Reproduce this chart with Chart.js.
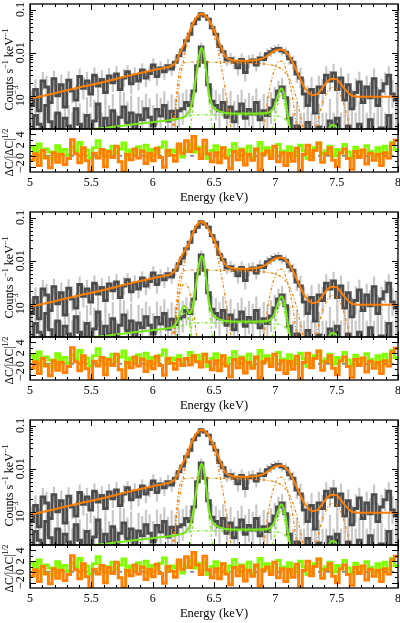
<!DOCTYPE html>
<html><head><meta charset="utf-8">
<script src="https://cdn.jsdelivr.net/npm/chart.js@4.4.1/dist/chart.umd.min.js"></script>
<style>
html,body{margin:0;padding:0;background:#fff;}
#wrap{position:relative;width:400px;height:623px;overflow:hidden;background:#fff;}
canvas{position:absolute;left:0;}
</style></head><body><div id="wrap"></div>
<script>
// ---------- DATA ----------
const energyBins = [5.00,5.03,5.06,5.09,5.12,5.15,5.18,5.21,5.24,5.27,
5.30,5.33,5.36,5.39,5.42,5.45,5.48,5.51,5.54,5.57,
5.60,5.63,5.66,5.69,5.72,5.75,5.78,5.81,5.84,5.87,
5.90,5.93,5.96,5.99,6.02,6.05,6.08,6.11,6.14,6.17,
6.20,6.23,6.26,6.29,6.32,6.35,6.38,6.41,6.44,6.47,
6.50,6.53,6.56,6.59,6.62,6.65,6.68,6.71,6.74,6.77,
6.80,6.83,6.86,6.89,6.92,6.95,6.98,7.01,7.04,7.07,
7.10,7.13,7.16,7.19,7.22,7.25,7.28,7.31,7.34,7.37,
7.40,7.43,7.46,7.49,7.52,7.55,7.58,7.61,7.64,7.67,
7.70,7.73,7.76,7.79,7.82,7.85,7.88,7.91,7.94,7.97];
const binEnd = 8.0;
const binWidth = 0.03;

const dataHigh = [6e-4,1.4e-3,4.5e-4,2.2e-3,1.6e-3,7e-4,2.5e-3,1.0e-3,1.8e-3,5.5e-4,
2.3e-3,1.3e-3,8e-4,2.8e-3,1.5e-3,2.2e-3,1.1e-3,3.0e-3,1.7e-3,2.4e-3,
1.2e-3,2.9e-3,2.0e-3,3.2e-3,1.4e-3,2.6e-3,3.6e-3,1.9e-3,3.0e-3,2.2e-3,
4.0e-3,2.6e-3,3.3e-3,5.2e-3,2.8e-3,4.4e-3,3.6e-3,5.0e-3,4.2e-3,6.0e-3,
8.5e-3,0.0115,0.019,0.027,0.047,0.060,0.080,0.071,0.060,0.038,
0.027,0.014,0.0105,0.0068,0.0072,0.0060,0.0045,0.0070,0.0035,0.0062,
0.0068,0.0052,0.0075,0.0070,0.0095,0.0105,0.0118,0.0125,0.0110,0.0102,
0.0072,0.0060,0.0032,0.0026,0.0011,0.0006,0.0014,0.0004,0.0016,0.0012,
0.0030,0.0022,0.0034,0.0014,0.0026,0.0008,0.0018,0.0005,0.0012,0.0021,
0.0007,0.0016,0.0009,0.0025,0.0006,0.0013,0.0019,0.0030,0.0011,0.0008];
const errHigh = [2.2,1.7,2.6,1.6,1.8,2.3,1.5,2.0,1.7,2.5,
1.6,1.9,2.2,1.5,1.8,1.6,2.0,1.5,1.7,1.6,
1.9,1.5,1.6,1.5,1.8,1.6,1.4,1.7,1.5,1.6,
1.4,1.6,1.5,1.4,1.6,1.4,1.5,1.4,1.4,1.35,
1.3,1.25,1.2,1.15,1.12,1.1,1.1,1.1,1.12,1.15,
1.2,1.25,1.3,1.35,1.35,1.4,1.5,1.35,1.6,1.4,
1.35,1.4,1.35,1.35,1.3,1.28,1.25,1.25,1.25,1.28,
1.35,1.4,1.6,1.7,2.2,2.8,1.9,3.0,1.8,2.0,
1.6,1.7,1.6,2.0,1.7,2.5,1.8,2.8,2.1,1.7,
2.5,1.8,2.3,1.7,2.6,1.9,1.8,1.6,2.1,2.4];
const dataLow = [1e-4,3.5e-4,2.2e-4,1e-4,6e-4,2.5e-4,1e-4,4e-4,1e-4,3e-4,
2e-4,1e-4,5e-4,2.2e-4,1e-4,3.5e-4,1e-4,2.6e-4,6.5e-4,1e-4,
3e-4,2e-4,4.5e-4,1e-4,3.2e-4,5.5e-4,2.4e-4,4e-4,1e-4,3.6e-4,
2.8e-4,5e-4,3.2e-4,2e-4,4.8e-4,3.4e-4,6e-4,2.6e-4,4.4e-4,3.3e-4,
4.5e-4,5e-4,7e-4,6e-4,1.3e-3,5e-3,0.0135,6e-3,1.8e-3,7.5e-4,
6e-4,4.5e-4,7e-4,3.2e-4,5.5e-4,2.5e-4,4.2e-4,6.5e-4,3e-4,4.8e-4,
3.8e-4,7e-4,2.8e-4,4.5e-4,3.5e-4,5.2e-4,8e-4,1.3e-3,1.6e-3,9e-4,
3e-4,1e-4,2e-4,1e-4,1e-4,2.4e-4,1e-4,1e-4,1.9e-4,1e-4,
1e-4,2.6e-4,1e-4,3e-4,1e-4,1e-4,2e-4,1e-4,1e-4,2.2e-4,
1e-4,1e-4,2.8e-4,1e-4,1e-4,1.8e-4,1e-4,3.5e-4,1e-4,1e-4];
const errLow = [4,2.5,3,4,2.2,3,4,2.5,4,2.8,
3,4,2.4,3,4,2.6,4,3,2.2,4,
2.8,3,2.4,4,2.7,2.2,3,2.5,4,2.6,
2.8,2.2,2.7,3,2.3,2.6,2.1,2.9,2.4,2.6,
2.4,2.3,2.0,1.8,1.5,1.3,1.25,1.35,1.6,2.0,
2.2,2.4,2.1,2.8,2.3,3,2.5,2.1,2.8,2.4,
2.6,2.1,2.9,2.4,2.7,2.3,2.0,1.7,1.6,1.9,
3,4,3.5,4,4,3.2,4,4,3.4,4,
4,3.2,4,3,4,4,3.5,4,4,3.3,
4,4,3,4,4,3.5,4,2.8,4,4];

const resGreen = [1.6,0.4,2.2,-0.3,1.3,0.7,-0.5,1.9,0.6,1.2,
0.1,1.7,0.9,2.5,0.3,1.1,-0.4,1.5,2.8,0.5,
1.0,-0.1,1.8,0.6,1.3,2.4,0.0,1.1,0.4,1.7,
0.8,2.0,-0.3,1.2,0.5,1.6,2.6,0.3,1.1,0.7,
1.5,-0.2,0.9,2.1,0.7,1.6,0.3,1.8,-0.5,1.0,
1.9,0.6,1.5,0.0,1.1,2.3,0.5,1.3,0.7,1.8,
-0.3,1.0,2.5,0.4,1.5,0.2,1.7,2.1,0.6,0.9,
1.7,-0.2,0.7,2.0,1.0,-0.5,0.6,1.5,2.4,0.4,
0.9,1.8,0.0,1.2,0.5,2.1,0.7,-0.3,1.6,1.0,
0.4,1.9,0.8,-0.1,1.5,0.6,1.8,0.5,2.5,1.2];
const resOrange = [-0.8,0.4,-1.8,1.0,-0.4,-2.2,0.6,-1.2,0.3,-1.6,
-0.5,3.0,0.4,-1.3,1.5,-0.9,-2.8,0.5,-0.4,1.2,
-2.0,0.8,-0.3,1.8,-1.1,-2.9,0.3,-0.7,1.3,-0.4,
0.9,-1.4,0.5,-0.9,1.4,-0.3,-2.1,1.0,0.1,-1.0,
2.2,0.5,2.8,0.8,3.6,1.3,-0.5,2.9,0.4,-1.1,
0.6,-1.3,1.5,-0.4,-2.4,0.8,-0.7,1.1,-1.7,0.3,
-0.8,1.3,-2.6,0.4,0.9,-0.5,1.8,-1.1,0.6,-1.8,
0.5,-1.0,1.4,-2.9,0.3,2.0,-0.7,1.0,2.4,-1.2,
0.4,1.5,-0.8,-2.0,0.6,1.3,-0.5,-2.5,0.8,-0.3,
1.1,-1.5,0.5,-0.8,0.3,-1.8,0.6,-0.4,2.2,2.9];
const resOrangeP2 = [-0.8,0.4,-1.8,1.0,-0.4,-2.2,0.6,-1.2,0.3,-1.6,
-0.5,3.0,0.4,-1.3,1.5,-0.9,-2.8,0.5,-0.4,1.2,
-2.0,0.8,-0.3,1.8,-1.1,-2.9,0.3,-0.7,1.3,-0.4,
0.9,-1.4,0.5,-0.9,1.4,-0.3,-2.1,1.0,0.1,-1.0,
0.8,-0.3,1.0,-0.2,1.5,0.4,-0.6,1.8,0.4,-1.1,
0.6,-1.3,1.5,-0.4,-2.4,0.8,-0.7,1.1,-1.7,0.3,
-0.8,1.3,-2.6,0.4,0.9,-0.5,1.8,-1.1,0.6,-1.8,
0.5,-1.0,1.4,-2.9,0.3,2.0,-0.7,1.0,2.4,-1.2,
0.4,1.5,-0.8,-2.0,0.6,1.3,-0.5,-2.5,0.8,-0.3,
1.1,-1.5,0.5,-0.8,0.3,-1.8,0.6,-0.4,2.2,2.9];

// model grid (keV)
const modelE = [5.0,5.2,5.4,5.6,5.8,6.0,6.1,6.15,6.18,6.2,
6.22,6.24,6.26,6.28,6.3,6.32,6.34,6.36,6.38,6.4,
6.42,6.44,6.46,6.48,6.5,6.52,6.54,6.56,6.58,6.6,
6.65,6.7,6.75,6.8,6.85,6.9,6.93,6.96,6.99,7.02,
7.05,7.08,7.11,7.14,7.17,7.2,7.23,7.26,7.3,7.34,
7.38,7.42,7.46,7.5,7.54,7.58,7.62,7.7,7.8,7.9,8.0];
const p1OrangeTotal = [8.5e-4,1.15e-3,1.56e-3,2.1e-3,2.9e-3,3.9e-3,4.5e-3,4.9e-3,5.6e-3,7.0e-3,
9.5e-3,0.0125,0.0165,0.022,0.031,0.043,0.056,0.068,0.077,0.080,
0.077,0.068,0.057,0.045,0.034,0.025,0.018,0.013,0.0095,0.0078,
0.0067,0.0065,0.0065,0.0066,0.0068,0.0074,0.0083,0.0096,0.0109,0.0117,
0.0118,0.0107,0.0086,0.0061,0.0040,0.0026,0.0017,0.0013,0.00105,0.00108,
0.0015,0.0021,0.0025,0.0024,0.0018,0.0013,0.00102,0.00095,0.00095,0.00095,0.00095];
const p2OrangeTotal = [8.5e-4,1.15e-3,1.56e-3,2.1e-3,2.9e-3,3.9e-3,4.5e-3,4.9e-3,5.8e-3,7.6e-3,
0.0105,0.0135,0.0170,0.021,0.027,0.038,0.053,0.068,0.078,0.081,
0.076,0.064,0.051,0.040,0.031,0.023,0.017,0.0125,0.0093,0.0077,
0.0067,0.0065,0.0065,0.0066,0.0068,0.0074,0.0083,0.0096,0.0109,0.0117,
0.0118,0.0107,0.0086,0.0061,0.0040,0.0026,0.0017,0.0013,0.00105,0.00108,
0.0015,0.0021,0.0025,0.0024,0.0018,0.0013,0.00102,0.00095,0.00095,0.00095,0.00095];
const p1GreenTotal = [1.2e-4,1.38e-4,1.58e-4,1.8e-4,2.1e-4,2.45e-4,2.65e-4,2.75e-4,2.85e-4,2.9e-4,
3.0e-4,3.1e-4,3.3e-4,3.7e-4,4.5e-4,7e-4,1.5e-3,3.8e-3,9e-3,0.013,
8.5e-3,3.0e-3,1.1e-3,6.5e-4,5.2e-4,4.7e-4,4.4e-4,4.2e-4,4.1e-4,4.0e-4,
3.9e-4,3.9e-4,3.9e-4,3.9e-4,3.9e-4,3.95e-4,4e-4,4.3e-4,5.5e-4,1.0e-3,
1.5e-3,9e-4,2.5e-4,1.2e-4,1e-4,1e-4,1e-4,1e-4,1e-4,1e-4,
1.05e-4,1.4e-4,2.1e-4,1.9e-4,1.3e-4,1e-4,9e-5,9e-5,9e-5,9e-5,9e-5];
const p2GreenTotal = [1.2e-4,1.38e-4,1.58e-4,1.8e-4,2.1e-4,2.45e-4,2.65e-4,2.8e-4,3.2e-4,4.0e-4,
5.5e-4,7.5e-4,9e-4,7.5e-4,6e-4,7.5e-4,1.5e-3,3.8e-3,9e-3,0.013,
8.5e-3,3.0e-3,1.1e-3,6.5e-4,5.2e-4,4.7e-4,4.4e-4,4.2e-4,4.1e-4,4.0e-4,
3.9e-4,3.9e-4,3.9e-4,3.9e-4,3.9e-4,3.95e-4,4e-4,4.3e-4,5.5e-4,1.0e-3,
1.5e-3,9e-4,2.5e-4,1.2e-4,1e-4,1e-4,1e-4,1e-4,1e-4,1e-4,
1.05e-4,1.4e-4,2.1e-4,1.9e-4,1.3e-4,1e-4,9e-5,9e-5,9e-5,9e-5,9e-5];

// model components [keV, value]
const oBox = [[6.15,1e-5],[6.18,2e-4],[6.2,1.5e-3],[6.22,4e-3],[6.24,5.4e-3],[6.26,5.9e-3],[6.3,6.1e-3],[6.5,6.0e-3],[6.7,5.8e-3],[6.85,5.6e-3],[6.93,5.4e-3],[6.99,5.0e-3],[7.02,4.7e-3],[7.05,4.2e-3],[7.08,3.5e-3],[7.11,2.6e-3],[7.14,1.7e-3],[7.17,9e-4],[7.2,4e-4],[7.23,1.5e-4],[7.26,4e-5]];
const oG64 = [[6.12,1e-5],[6.15,8e-5],[6.18,3.9e-4],[6.2,9.8e-4],[6.22,2.2e-3],[6.24,4.6e-3],[6.26,8.9e-3],[6.28,0.0156],[6.3,0.025],[6.32,0.037],[6.34,0.050],[6.36,0.062],[6.38,0.071],[6.4,0.074],[6.42,0.071],[6.44,0.062],[6.46,0.050],[6.48,0.037],[6.5,0.025],[6.52,0.0156],[6.54,8.9e-3],[6.56,4.6e-3],[6.58,2.2e-3],[6.6,9.8e-4],[6.62,3.9e-4],[6.65,9e-5],[6.68,1e-5]];
const oG705 = [[6.85,3e-5],[6.9,1.3e-4],[6.93,5.8e-4],[6.96,1.8e-3],[6.99,3.9e-3],[7.02,6.0e-3],[7.05,6.4e-3],[7.08,4.7e-3],[7.11,2.4e-3],[7.14,8.8e-4],[7.17,2.2e-4],[7.2,4e-5]];
const oG747 = [[7.3,5.4e-5],[7.34,2.2e-4],[7.38,6.1e-4],[7.42,1.18e-3],[7.46,1.58e-3],[7.5,1.44e-3],[7.54,9e-4],[7.58,3.8e-4],[7.62,1.1e-4],[7.66,2e-5]];
const oG625 = [[6.15,1e-5],[6.18,2.5e-4],[6.21,1.2e-3],[6.24,2.6e-3],[6.27,2.9e-3],[6.3,1.9e-3],[6.33,7e-4],[6.36,1.5e-4],[6.39,1e-5]];
const gCont = [[5.0,1.2e-4],[5.2,1.38e-4],[5.4,1.58e-4],[5.6,1.8e-4],[5.8,2.1e-4],[6.0,2.45e-4],[6.1,2.65e-4],[6.2,2.9e-4],[6.26,3.2e-4],[6.3,3.4e-4],[6.35,3.6e-4],[6.6,3.6e-4],[6.96,3.6e-4],[6.99,3.5e-4],[7.02,3.4e-4],[7.05,3.2e-4],[7.08,2.8e-4],[7.11,2.0e-4],[7.14,1.2e-4],[7.17,9e-5]];
const gG64 = [[6.28,2e-5],[6.3,1e-4],[6.32,3.5e-4],[6.34,1.15e-3],[6.36,3.5e-3],[6.38,8.6e-3],[6.4,0.0126],[6.42,8.1e-3],[6.44,2.6e-3],[6.46,7.5e-4],[6.48,2.5e-4],[6.5,1e-4],[6.52,2e-5]];
const gG706 = [[6.94,2e-5],[6.96,1e-4],[6.99,2.5e-4],[7.02,6.5e-4],[7.05,1.15e-3],[7.08,5.5e-4],[7.11,1.2e-4],[7.13,2e-5]];
const gG625 = [[6.15,2e-5],[6.18,1e-4],[6.21,3e-4],[6.24,5.5e-4],[6.27,6e-4],[6.3,3.5e-4],[6.33,1e-4],[6.36,2e-5]];

const xMajorTicks = [5, 5.5, 6, 6.5, 7, 7.5, 8];
const xTickLabels = ['5', '5.5', '6', '6.5', '7', '7.5', '8'];
const yMajorTicks = [1e-3, 1e-2, 1e-1];
const yTickLabels = [[['10',0],['\u22123',1]], [['0.01',0]], [['0.1',0]]];
const resMajorTicks = [-2, 0, 2, 4];
const resTickLabels = ['\u22122', '0', '2', '4'];

// ---------- STYLE ----------
const FONT = "'Liberation Serif','Times New Roman',serif";
const ORANGE = '#ff7f00', GREEN = '#78e81a', GREEN_RES = '#80ff00';
const DARK = '#4d4d4d', LIGHT = '#c8c8c8';
const Y_MIN = 1.7e-4, Y_MAX = 0.135, R_MIN = -3, R_MAX = 5;
const PANEL_TOPS = [0, 208, 416];

const panels = [
  {orange: p1OrangeTotal, green: p1GreenTotal, oComps: [oBox, oG64, oG705, oG747], gComps: [gCont, gG64, gG706], resO: resOrange},
  {orange: p2OrangeTotal, green: p2GreenTotal, oComps: [oBox, oG64, oG705, oG747, oG625], gComps: [gCont, gG64, gG706, gG625], resO: resOrangeP2},
  {orange: p1OrangeTotal, green: p1GreenTotal, oComps: [oBox, oG64, oG705, oG747], gComps: [gCont, gG64, gG706], resO: resOrange}
];

function stepPoints(vals) {
  const pts = energyBins.map((e, i) => ({x: e, y: vals[i]}));
  pts.push({x: binEnd, y: vals[vals.length - 1]});
  return pts;
}
function errPoints(vals, f) {
  return energyBins.map((e, i) => ({x: e + binWidth / 2, y: [vals[i] / f[i], vals[i] * f[i]]}));
}
function curvePoints(xs, ys) { return xs.map((x, i) => ({x, y: ys[i]})); }
function pairPoints(arr) { return arr.map(p => ({x: p[0], y: p[1]})); }

function richText(ctx, parts, x, y, size, rotate, baseline) {
  ctx.save();
  ctx.translate(x, y);
  if (rotate) ctx.rotate(-Math.PI / 2);
  let total = 0;
  const ws = parts.map(([t, s]) => { ctx.font = (s ? size * 0.68 : size) + 'px ' + FONT; const w = ctx.measureText(t).width; total += w; return w; });
  let cx = -total / 2;
  ctx.textAlign = 'left';
  ctx.textBaseline = baseline || 'alphabetic';
  ctx.fillStyle = '#000';
  parts.forEach(([t, s], i) => {
    ctx.font = (s ? size * 0.68 : size) + 'px ' + FONT;
    ctx.fillText(t, cx, s ? -size * 0.42 : 0);
    cx += ws[i];
  });
  ctx.restore();
}

function hLine(ctx, x1, y1, x2, y2) { ctx.beginPath(); ctx.moveTo(x1, y1); ctx.lineTo(x2, y2); ctx.stroke(); }

function drawXTicks(ctx, chart) {
  const a = chart.chartArea, xs = chart.scales.x;
  for (let i = 0; i <= 30; i++) {
    const v = 5 + i * 0.1;
    const major = i % 5 === 0;
    const px = Math.round(xs.getPixelForValue(v)) + 0.5;
    const len = major ? 6 : 3;
    hLine(ctx, px, a.bottom, px, a.bottom - len);
    hLine(ctx, px, a.top, px, a.top + len);
  }
}
function drawYTicks(ctx, chart, majors, minors) {
  const a = chart.chartArea, ys = chart.scales.y;
  const one = (v, len) => {
    const py = Math.round(ys.getPixelForValue(v)) + 0.5;
    if (py < a.top || py > a.bottom) return;
    hLine(ctx, a.left, py, a.left + len, py);
    hLine(ctx, a.right, py, a.right - len, py);
  };
  majors.forEach(v => one(v, 6));
  minors.forEach(v => one(v, 3));
}

const mainDecor = {
  id: 'mainDecor',
  afterDraw(chart) {
    const ctx = chart.ctx, a = chart.chartArea, ys = chart.scales.y;
    ctx.save();
    ctx.strokeStyle = '#000'; ctx.lineWidth = 1;
    drawXTicks(ctx, chart);
    const minors = [];
    [1e-4, 1e-3, 1e-2, 1e-1].forEach(d => { for (let k = 2; k <= 9; k++) minors.push(k * d); });
    drawYTicks(ctx, chart, yMajorTicks, minors);
    ctx.lineWidth = 1.3;
    ctx.strokeRect(a.left, a.top, a.width, a.height);
    yMajorTicks.forEach((v, i) => richText(ctx, yTickLabels[i], 21, ys.getPixelForValue(v), 12, true, 'middle'));
    richText(ctx, [['Counts s', 0], ['\u22121', 1], [' keV', 0], ['\u22121', 1]], 13, (a.top + a.bottom) / 2 + 3, 12, true, 'alphabetic');
    ctx.restore();
  }
};
const resDecor = {
  id: 'resDecor',
  afterDraw(chart) {
    const ctx = chart.ctx, a = chart.chartArea, ys = chart.scales.y, xs = chart.scales.x;
    ctx.save();
    ctx.strokeStyle = '#000'; ctx.lineWidth = 1;
    drawXTicks(ctx, chart);
    drawYTicks(ctx, chart, resMajorTicks, [-3, -1, 1, 3, 5]);
    ctx.lineWidth = 1.3;
    ctx.strokeRect(a.left, a.top, a.width, a.height);
    resMajorTicks.forEach((v, i) => richText(ctx, [[resTickLabels[i], 0]], 21, ys.getPixelForValue(v), 12, true, 'middle'));
    richText(ctx, [['\u0394C/|\u0394C|', 0], ['1/2', 1]], 13, (a.top + a.bottom) / 2 + 2, 11.5, true, 'alphabetic');
    ctx.fillStyle = '#000';
    ctx.font = '12px ' + FONT;
    ctx.textAlign = 'center'; ctx.textBaseline = 'middle';
    xMajorTicks.forEach((v, i) => ctx.fillText(xTickLabels[i], xs.getPixelForValue(v), a.bottom + 11));
    ctx.font = '12.5px ' + FONT;
    ctx.fillText('Energy (keV)', (a.left + a.right) / 2, a.bottom + 26);
    ctx.restore();
  }
};

const wrap = document.getElementById('wrap');
function makeCanvas(top, h) {
  const c = document.createElement('canvas');
  c.width = 400; c.height = h;
  c.style.top = top + 'px';
  c.style.width = '400px'; c.style.height = h + 'px';
  wrap.appendChild(c);
  return c;
}

const baseOpts = (yScale, pad) => ({
  responsive: false, animation: false, devicePixelRatio: 1,
  layout: {padding: pad},
  plugins: {legend: {display: false}, tooltip: {enabled: false}},
  elements: {point: {radius: 0}},
  scales: {x: {type: 'linear', min: 5, max: 8, offset: false, display: false}, y: yScale}
});

panels.forEach((p, k) => {
  const T = PANEL_TOPS[k];
  const c1 = makeCanvas(T, 131);
  const ds = [];
  ds.push({type: 'bar', data: errPoints(dataHigh, errHigh), backgroundColor: LIGHT, barThickness: 1.5, grouped: false, order: 20, clip: 0});
  ds.push({type: 'bar', data: errPoints(dataLow, errLow), backgroundColor: LIGHT, barThickness: 1.5, grouped: false, order: 19, clip: 0});
  ds.push({type: 'line', data: stepPoints(dataLow), borderColor: DARK, borderWidth: 3, stepped: true, order: 11, clip: 0});
  ds.push({type: 'line', data: stepPoints(dataHigh), borderColor: DARK, borderWidth: 3, stepped: true, order: 10, clip: 0});
  p.oComps.forEach(c => ds.push({type: 'line', data: pairPoints(c), borderColor: ORANGE, borderWidth: 1.2, borderDash: [3, 2, 1, 2], cubicInterpolationMode: 'monotone', order: 5, clip: 0}));
  p.gComps.forEach(c => ds.push({type: 'line', data: pairPoints(c), borderColor: GREEN, borderWidth: 1.2, borderDash: [3, 2, 1, 2], cubicInterpolationMode: 'monotone', order: 5, clip: 0}));
  ds.push({type: 'line', data: curvePoints(modelE, p.green), borderColor: GREEN, borderWidth: 2, cubicInterpolationMode: 'monotone', order: 2, clip: 0});
  ds.push({type: 'line', data: curvePoints(modelE, p.orange), borderColor: ORANGE, borderWidth: 2, cubicInterpolationMode: 'monotone', order: 1, clip: 0});
  new Chart(c1, {
    type: 'line',
    data: {datasets: ds},
    options: baseOpts({type: 'logarithmic', min: Y_MIN, max: Y_MAX, display: false}, {left: 30, right: 2, top: 4, bottom: 2}),
    plugins: [mainDecor]
  });

  const c2 = makeCanvas(T + 125, 84);
  new Chart(c2, {
    type: 'line',
    data: {datasets: [
      {data: [{x: 5, y: 0}, {x: 8, y: 0}], borderColor: '#333', borderWidth: 1, borderDash: [4, 4], order: 5, clip: 0},
      {data: stepPoints(resGreen), borderColor: GREEN_RES, borderWidth: 3, stepped: true, order: 3, clip: 0},
      {data: stepPoints(p.resO), borderColor: ORANGE, borderWidth: 3, stepped: true, order: 2, clip: 0}
    ]},
    options: baseOpts({type: 'linear', min: R_MIN, max: R_MAX, display: false}, {left: 30, right: 2, top: 4, bottom: 37}),
    plugins: [resDecor]
  });
});
</script></body></html>
